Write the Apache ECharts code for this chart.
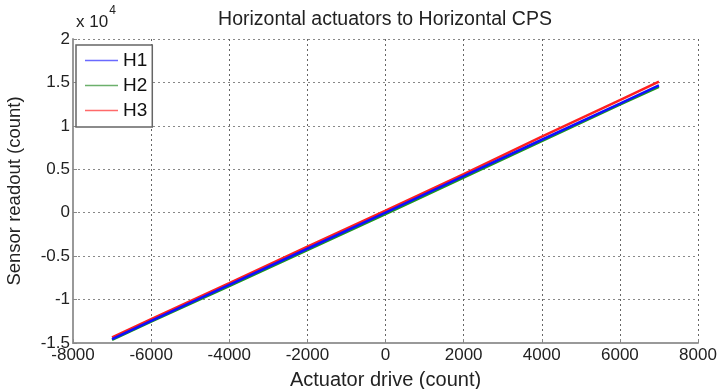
<!DOCTYPE html>
<html><head><meta charset="utf-8">
<script src="https://cdn.jsdelivr.net/npm/echarts@6/dist/echarts.min.js"></script>
<style>html,body{margin:0;padding:0;background:#fff}#c{width:721px;height:389px}</style>
</head><body><div id="c"></div>
<script>
const drive = [-7000, -6000, -4000, -2000, 0, 2000, 4000, 6000, 7000];
const h1 = [-14550, -12450, -8300, -4150, 0, 4200, 8400, 12550, 14650];
const h2 = [-14650, -12550, -8450, -4300, -150, 4050, 8250, 12450, 14500];
const h3 = [-14350, -12250, -8100, -3900, 250, 4450, 8750, 12950, 15100];
const names = ['H1', 'H2', 'H3'];
const colors = ['#1010ff', '#1e9a1e', '#ff2020'];
const legendColors = ['#6a6aff', '#6cb06c', '#ff6a6a'];

const pairs = (ys) => drive.map((x, i) => [x, ys[i]]);
const font = 'Liberation Sans, Arial, sans-serif';
const chart = echarts.init(document.getElementById('c'));
chart.setOption({
  animation: false,
  textStyle: { fontFamily: font },
  title: {
    text: 'Horizontal actuators to Horizontal CPS',
    left: 380, top: 5, textAlign: 'center',
    textStyle: { fontFamily: font, fontSize: 19.5, fontWeight: 'normal', color: '#222' }
  },
  grid: { left: 73, top: 39, right: 23, bottom: 46, containLabel: false, outerBoundsMode: 'none' },
  legend: {
    orient: 'vertical', left: 76, top: 45,
    data: names.map((n, i) => ({ name: n, itemStyle: { color: legendColors[i] } })),
    icon: 'rect', itemWidth: 33, itemHeight: 1.5, itemGap: 6,
    padding: [6, 5, 7, 9],
    borderColor: '#666', borderWidth: 1.5, backgroundColor: '#fff',
    textStyle: { fontFamily: font, fontSize: 19, color: '#111', lineHeight: 18 }
  },
  graphic: [{
    type: 'text', left: 76, top: 5,
    style: {
      text: '{a|x 10}{b|4}',
      rich: {
        a: { fontFamily: font, fontSize: 17, fill: '#222', padding: [9, 1, 0, 0] },
        b: { fontFamily: font, fontSize: 12, fill: '#222', verticalAlign: 'top' }
      }
    }
  }],
  xAxis: {
    type: 'value', min: -8000, max: 8000, interval: 2000,
    name: 'Actuator drive (count)', nameLocation: 'middle', nameGap: 27,
    nameTextStyle: { fontFamily: font, fontSize: 20, color: '#222' },
    axisLine: { onZero: false, lineStyle: { color: '#999', width: 2 } },
    axisTick: { inside: true, length: 4, lineStyle: { color: '#888' } },
    axisLabel: { fontFamily: font, fontSize: 17, color: '#222', margin: 4,
      formatter: v => String(v) },
    splitLine: { show: true, lineStyle: { color: '#666', type: [2, 3], width: 1 } }
  },
  yAxis: {
    type: 'value', min: -15000, max: 20000, interval: 5000,
    name: 'Sensor readout (count)', nameLocation: 'middle', nameGap: 49,
    nameTextStyle: { fontFamily: font, fontSize: 18.5, color: '#222' },
    axisLine: { show: true, onZero: false, lineStyle: { color: '#999', width: 2 } },
    axisTick: { show: true, inside: true, length: 4, lineStyle: { color: '#888' } },
    axisLabel: { fontFamily: font, fontSize: 17, color: '#222', margin: 3,
      formatter: v => String(v / 10000) },
    splitLine: { show: true, lineStyle: { color: '#888', type: [2, 3], width: 1 } }
  },
  series: [h1, h2, h3].map((d, i) => ({
    name: names[i], type: 'line', data: pairs(d),
    showSymbol: false, symbol: 'none',
    lineStyle: { color: colors[i], width: 2.5 },
    itemStyle: { color: colors[i] },
    z: i === 2 ? 3 : (i === 0 ? 4 : 2)
  }))
});
</script></body></html>
